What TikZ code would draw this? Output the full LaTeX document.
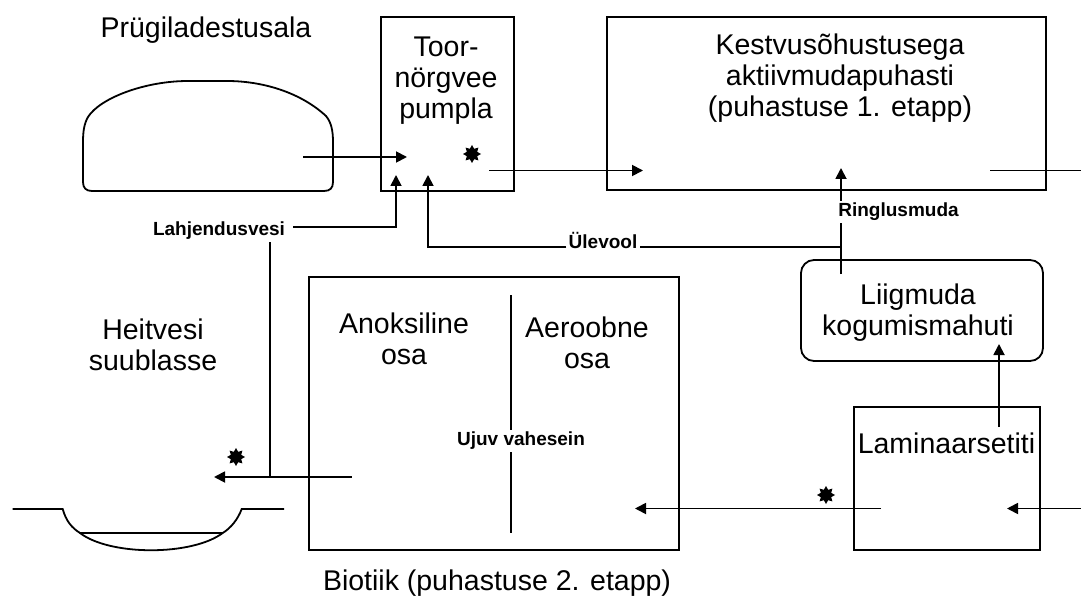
\documentclass[tikz,border=0pt]{standalone}
\usepackage{fontspec}
\setmainfont{Liberation Sans}
\usetikzlibrary{arrows.meta,shapes.geometric}
\tikzset{
  box/.style={draw, line width=1.8pt, inner sep=0pt},
  txt/.style={font=\fontsize{28.5}{31}\selectfont, align=center, inner sep=0pt},
  lbl/.style={font=\fontsize{19}{21}\selectfont\bfseries, inner sep=2pt},
  pipe/.style={line width=1.8pt},
  flow/.style={pipe, -{Triangle[length=11pt,width=11pt]}},
  sun/.style={star, star points=8, star point ratio=1.6, fill, minimum size=18pt, inner sep=0pt}
}
\begin{document}
\begin{tikzpicture}[x=1pt,y=-1pt]
\useasboundingbox (0,0) rectangle (1081,596);
\node[box, minimum width=133pt, minimum height=174pt] (pump) at (447.5,104) {};
\node[box, minimum width=439pt, minimum height=173pt] (akt) at (826.5,103.5) {};
\node[box, rounded corners=13pt, minimum width=242pt, minimum height=101pt] (liig) at (922,310.5) {};
\node[box, minimum width=186pt, minimum height=143pt] (lam) at (947,478.5) {};
\node[box, minimum width=370pt, minimum height=273pt] (bio) at (494,413.5) {};

\node[txt] (prug) at (206,30) {Prügiladestusala};
\node[txt] (pumptxt) at (446,80.7) {Toor-\\nörgvee\\pumpla};
\node[txt] (akttxt) at (840,78.5) {Kestvusõhustusega\\aktiivmudapuhasti\\(puhastuse 1. etapp)};
\node[txt] (liigtxt) at (918,313) {Liigmuda\\kogumismahuti};
\node[txt] (lamtxt) at (946.5,443.5) {Laminaarsetiti};
\node[txt] (heit) at (153,345) {Heitvesi\\suublasse};
\node[txt] (anok) at (404,339) {Anoksiline\\osa};
\node[txt] (aero) at (587,343) {Aeroobne\\osa};
\node[txt] (biotxt) at (497,583) {Biotiik (puhastuse 2. etapp)};

\node[lbl] (lahj) at (219,231) {Lahjendusvesi};
\node[lbl] (ulev) at (603,240) {Ülevool};
\node[lbl] (ring) at (898.5,211.7) {Ringlusmuda};
\node[lbl] (ujuv) at (521,441) {Ujuv vahesein};

\node[sun] (sun1) at (472,154) {};
\node[sun] (sun2) at (236,457) {};
\node[sun] (sun3) at (826,495) {};

\coordinate (moundout) at (303,157);
\coordinate (pumpin) at (407,157);
\coordinate (pumpout) at (489,170.5);
\coordinate (aktin) at (643,170.5);
\coordinate (aktout) at (990,170.5);
\coordinate (aktexit) at (1081,170.5);
\coordinate (lamentry) at (1081,508.5);
\coordinate (lamin) at (1007,508.5);
\coordinate (lamup) at (999,427);
\coordinate (liigin) at (999,344);
\coordinate (lamout) at (881,508.5);
\coordinate (bioin) at (635,508.5);
\coordinate (bioout) at (351.6,477);
\coordinate (heitin) at (214,477);
\coordinate (dilbend) at (396,227);
\coordinate (dilin) at (396,175);
\coordinate (diljoin) at (270,477);
\coordinate (ovin) at (428,175);
\coordinate (liigstem) at (841,274);
\coordinate (ringjoin) at (841,247);
\coordinate (aktring) at (841,168);
\coordinate (divtop) at (511,295);
\coordinate (divbot) at (511,533);

\draw[pipe] (92,191) -- (324,191) .. controls (330,191) and (333,188) .. (333,182) -- (333,142)
  .. controls (333,130) and (331,122) .. (326,116)
  .. controls (300,92) and (262,81) .. (227,81) -- (188,81)
  .. controls (145,81) and (100,98) .. (88,117)
  .. controls (84,124) and (83,132) .. (83,142) -- (83,182)
  .. controls (83,188) and (86,191) .. (92,191) -- cycle;
\draw[pipe] (12.7,509) -- (62.7,509) .. controls (66,521) and (72,528) .. (80,533) -- (222.7,533)
  .. controls (231,528) and (238,519) .. (241.7,509) -- (284,509);
\draw[pipe] (80,533) .. controls (110,556) and (192,556) .. (222.7,533);

\draw[flow] (moundout) -- (pumpin);
\draw[flow] (pumpout) -- (aktin);
\draw[pipe] (aktout) -- (aktexit);
\draw[flow] (lamentry) -- (lamin);
\draw[flow] (lamup) -- (liigin);
\draw[flow] (lamout) -- (bioin);
\draw[flow] (bioout) -- (heitin);
\draw[flow] ([xshift=6pt]lahj.east |- dilbend) -| (dilin);
\draw[pipe] (lahj.south -| diljoin) -- (diljoin);
\draw[pipe] (ringjoin) -- (ringjoin -| ulev.east);
\draw[flow] (ringjoin -| ulev.west) -| (ovin);
\draw[pipe] (liigstem) -- (ring.south -| liigstem);
\draw[flow] (ring.north -| liigstem) -- (aktring);
\draw[pipe] (divtop) -- (ujuv.north -| divtop);
\draw[pipe] (ujuv.south -| divtop) -- (divbot);
\end{tikzpicture}
\end{document}
